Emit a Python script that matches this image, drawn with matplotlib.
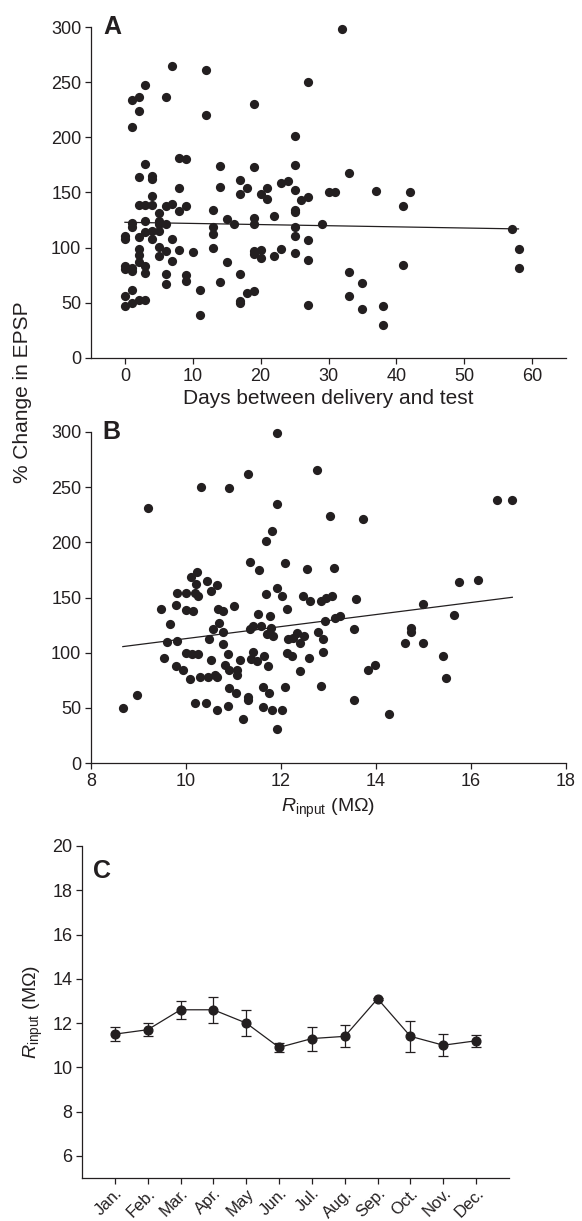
import matplotlib
matplotlib.use('Agg')
import matplotlib.pyplot as plt

plt.rcParams['font.family'] = ['Liberation Sans', 'DejaVu Sans']
plt.rcParams['mathtext.fontset'] = 'custom'
plt.rcParams['mathtext.rm'] = 'Liberation Sans'
plt.rcParams['mathtext.it'] = 'Liberation Sans:italic'

INK = '#231f20'

# Panel A: days between delivery and test vs % change in EPSP
days = [0, 0, 0, 0, 0, 0,
        1, 1, 1, 1, 1, 1, 1, 1,
        2, 2, 2, 2, 2, 2, 2, 2, 2,
        3, 3, 3, 3, 3, 3, 3, 3,
        4, 4, 4, 4, 4, 4,
        5, 5, 5, 5, 5, 5,
        6, 6, 6, 6, 6, 6,
        7, 7, 7, 7,
        8, 8, 8, 8,
        9, 9, 9, 9,
        10, 11, 11, 12, 12,
        13, 13, 13, 13,
        14, 14, 14, 15, 15, 16,
        17, 17, 17, 17, 17, 18, 18,
        19, 19, 19, 19, 19, 19, 19,
        20, 20, 20, 21, 21, 22, 22, 23, 23, 24,
        25, 25, 25, 25, 25, 25, 25, 25,
        26, 27, 27, 27, 27, 27,
        29, 30, 31, 32, 33, 33, 33, 35, 35, 37, 38, 38,
        41, 41, 42, 57, 58, 58]
epsp_a = [111, 108, 83, 81, 56, 47,
          234, 209, 122, 119, 82, 79, 62, 50,
          237, 224, 164, 139, 110, 99, 93, 87, 53,
          247, 176, 139, 124, 114, 83, 77, 53,
          165, 162, 147, 139, 115, 108,
          131, 124, 121, 115, 101, 92,
          237, 138, 121, 97, 76, 67,
          265, 140, 108, 88,
          181, 154, 133, 98,
          180, 138, 75, 70,
          96, 62, 39, 261, 220,
          134, 119, 112, 100,
          174, 155, 69, 126, 87, 121,
          161, 149, 76, 52, 50, 154, 59,
          230, 173, 127, 121, 97, 94, 61,
          149, 98, 91, 154, 144, 129, 92, 159, 99, 160,
          201, 175, 152, 134, 132, 119, 111, 95,
          143, 250, 146, 107, 89, 48,
          121, 150, 150, 298, 168, 78, 56, 68, 44, 151, 47, 30,
          138, 84, 150, 117, 99, 82]
fit_a_x = [0, 58]
fit_a_y = [123, 117]

# Panel B: input resistance vs % change in EPSP
rin = [8.67, 8.97, 9.2, 9.47, 9.54, 9.61, 9.66, 9.79, 9.79, 9.8, 9.82, 9.94,
       10.0, 10.0, 10.01, 10.08, 10.11, 10.12, 10.15, 10.18, 10.18, 10.22, 10.24,
       10.26, 10.26, 10.29, 10.32, 10.42, 10.44, 10.46, 10.48, 10.52, 10.53, 10.57,
       10.6, 10.65, 10.65, 10.66, 10.68, 10.69, 10.77, 10.77, 10.77, 10.82, 10.88,
       10.89, 10.91, 10.91, 10.91, 11.01, 11.05, 11.07, 11.08, 11.14, 11.19, 11.3,
       11.3, 11.3, 11.35, 11.35, 11.37, 11.4, 11.42, 11.49, 11.52, 11.54, 11.58,
       11.63, 11.63, 11.64, 11.68, 11.68, 11.7, 11.73, 11.75, 11.77, 11.78, 11.8,
       11.82, 11.84, 11.92, 11.92, 11.92, 11.92, 12.02, 12.03, 12.08, 12.09, 12.12,
       12.12, 12.15, 12.24, 12.26, 12.33, 12.39, 12.41, 12.49, 12.47, 12.55, 12.59,
       12.6, 12.75, 12.77, 12.84, 12.84, 12.88, 12.88, 12.93, 12.95, 13.03, 13.07,
       13.12, 13.14, 13.24, 13.54, 13.54, 13.57, 13.73, 13.84, 13.98, 14.28, 14.62,
       14.73, 14.74, 14.98, 14.98, 15.4, 15.47, 15.64, 15.75, 16.14, 16.54, 16.86]
epsp_b = [50, 62, 231, 140, 95, 110, 126, 143, 88, 154, 111, 84,
          154, 100, 139, 76, 169, 99, 138, 154, 54, 162, 173,
          99, 151, 78, 250, 54, 165, 78, 112, 156, 93, 121,
          80, 78, 48, 161, 140, 127, 119, 108, 138, 89, 52,
          99, 249, 84, 68, 142, 63, 84, 80, 93, 40, 262,
          60, 57, 182, 121, 94, 124, 101, 92, 135, 175, 124,
          69, 51, 97, 201, 153, 117, 88, 63, 133, 122, 48,
          210, 115, 299, 235, 159, 31, 48, 151, 69, 181, 140,
          100, 112, 97, 113, 118, 109, 83, 115, 151, 176, 95,
          147, 266, 119, 70, 147, 112, 101, 129, 150, 224, 151,
          177, 131, 133, 121, 57, 149, 221, 84, 89, 44, 109,
          122, 119, 109, 144, 97, 77, 134, 164, 166, 238, 238]
fit_b_x = [8.67, 16.87]
fit_b_y = [105.5, 150.2]

# Panel C: monthly input resistance
months = ['Jan.', 'Feb.', 'Mar.', 'Apr.', 'May', 'Jun.',
          'Jul.', 'Aug.', 'Sep.', 'Oct.', 'Nov.', 'Dec.']
rin_month = [11.5, 11.7, 12.6, 12.6, 12.0, 10.9, 11.3, 11.4, 13.1, 11.4, 11.0, 11.2]
rin_err = [0.33, 0.29, 0.4, 0.6, 0.6, 0.19, 0.54, 0.5, 0.05, 0.71, 0.49, 0.26]

W, H = 582, 1221
fig = plt.figure(figsize=(W / 100, H / 100), dpi=100)

def px_axes(left, top, right, bottom):
    return fig.add_axes([left / W, 1 - bottom / H, (right - left) / W, (bottom - top) / H])

def style(ax):
    for s in ['top', 'right']:
        ax.spines[s].set_visible(False)
    for s in ['left', 'bottom']:
        ax.spines[s].set_linewidth(0.9)
        ax.spines[s].set_color(INK)
    ax.tick_params(direction='out', length=4, width=0.9, labelsize=13,
                   colors=INK, pad=3)

ax_a = px_axes(91, 27, 566, 358)
ax_b = px_axes(91, 432, 566, 763)
ax_c = px_axes(82, 846, 509, 1178)

rlabel = r'$R_{\mathrm{input}}$ (M$\Omega$)'

# A
ax_a.scatter(days, epsp_a, s=44, color=INK, linewidths=0, zorder=3, clip_on=False)
ax_a.plot(fit_a_x, fit_a_y, color=INK, lw=0.9, zorder=2)
ax_a.set_xlim(-5, 65)
ax_a.set_ylim(0, 300)
ax_a.set_xticks(range(0, 61, 10))
ax_a.set_yticks(range(0, 301, 50))
ax_a.set_xlabel('Days between delivery and test', fontsize=15, color=INK, labelpad=3)
style(ax_a)
ax_a.text(0.025, 1.0, 'A', transform=ax_a.transAxes, fontsize=18, fontweight='bold',
          va='center', ha='left', color=INK)

# B
ax_b.scatter(rin, epsp_b, s=44, color=INK, linewidths=0, zorder=3, clip_on=False)
ax_b.plot(fit_b_x, fit_b_y, color=INK, lw=0.9, zorder=2)
ax_b.set_xlim(8, 18)
ax_b.set_ylim(0, 300)
ax_b.set_xticks(range(8, 19, 2))
ax_b.set_yticks(range(0, 301, 50))
ax_b.set_xlabel(rlabel, fontsize=14, color=INK, labelpad=5)
style(ax_b)
ax_b.text(0.025, 1.0, 'B', transform=ax_b.transAxes, fontsize=18, fontweight='bold',
          va='center', ha='left', color=INK)

fig.text(23 / W, 1 - 392 / H, '% Change in EPSP', rotation=90, fontsize=15,
         color=INK, ha='center', va='center')

# C
xpos = list(range(1, len(months) + 1))
ax_c.errorbar(xpos, rin_month, yerr=rin_err, color=INK, lw=0.9, marker='o', ms=6.3,
              mec=INK, mfc=INK, capsize=3.5, elinewidth=0.9, capthick=0.9, zorder=3)
ax_c.set_xlim(0, 13)
ax_c.set_ylim(5, 20)
ax_c.set_yticks(range(6, 21, 2))
ax_c.set_xticks(xpos)
ax_c.set_xticklabels(months, rotation=45, ha='right', rotation_mode='anchor')
ax_c.set_ylabel(rlabel, fontsize=14, color=INK, labelpad=5)
style(ax_c)
ax_c.tick_params(axis='x', labelsize=12, pad=1.5)
ax_c.text(0.025, 0.925, 'C', transform=ax_c.transAxes, fontsize=18, fontweight='bold',
          va='center', ha='left', color=INK)

fig.savefig('out.png', dpi=100)
